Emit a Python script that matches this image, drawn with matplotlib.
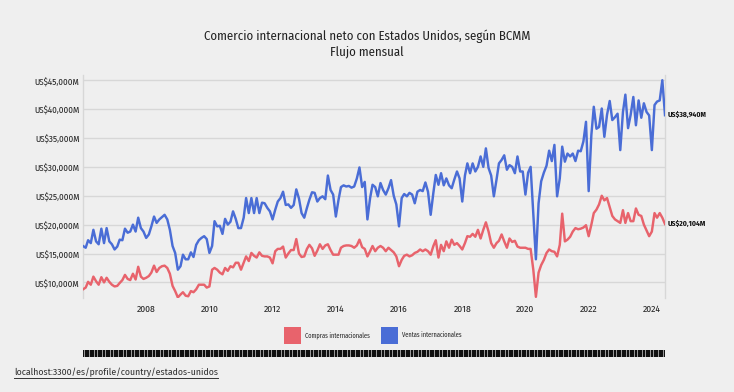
import matplotlib
matplotlib.use("Agg")
import matplotlib.pyplot as plt
import matplotlib.dates as mdates
from matplotlib import font_manager as fm
from matplotlib.ticker import FuncFormatter, FixedLocator
from matplotlib.patches import Rectangle
from matplotlib.lines import Line2D
import pandas as pd

# ---------------- data ----------------
TITLE = "Comercio internacional neto con Estados Unidos, según BCMM"
SUBTITLE = "Flujo mensual"
SOURCE = "localhost:3300/es/profile/country/estados-unidos"
series_names = ["Compras internacionales", "Ventas internacionales"]
series_colors = ["#e8636c", "#4a6dd6"]
start_month = "2006-01-01"
y_ticks = [10000, 15000, 20000, 25000, 30000, 35000, 40000, 45000]
x_tick_years = [2008, 2010, 2012, 2014, 2016, 2018, 2020, 2022, 2024]

# monthly values, in thousand million US$ (Jan 2006 - Jun 2024)
ventas = [
    16.3, 16.0, 17.3, 16.8, 19.1, 17.1, 16.6, 19.3, 16.8, 19.4, 17.1, 16.6,
    15.7, 16.2, 17.4, 17.3, 19.3, 18.6, 18.8, 20.0, 18.8, 21.2, 19.4, 18.8,
    17.7, 18.3, 19.7, 21.4, 20.3, 20.9, 21.3, 21.7, 20.9, 19.1, 16.3, 15.1,
    12.2, 12.8, 14.8, 14.0, 14.0, 15.2, 14.4, 16.5, 17.3, 17.7, 18.0, 17.5,
    15.1, 16.3, 20.6, 19.7, 19.8, 18.4, 21.0, 20.0, 20.5, 22.3, 21.0, 19.4,
    19.4, 21.2, 24.6, 22.0, 24.6, 22.0, 24.6, 22.0, 23.8, 23.7, 22.9, 22.3,
    20.9, 22.6, 24.0, 24.6, 25.7, 23.4, 23.5, 22.9, 23.4, 26.1, 24.5, 22.0,
    21.2, 22.9, 24.3, 25.6, 25.5, 24.0, 24.6, 24.9, 24.4, 28.5, 26.0, 25.2,
    21.4, 24.3, 26.5, 26.8, 26.6, 26.7, 26.4, 26.6, 28.0, 29.9, 26.5, 27.4,
    20.9, 24.6, 26.9, 26.5, 24.9, 27.2, 26.0, 25.2, 26.3, 27.7, 25.0, 23.5,
    19.7, 24.6, 25.3, 24.9, 25.5, 25.2, 23.7, 25.7, 26.0, 25.8, 27.3, 25.7,
    21.7, 25.5, 28.6, 26.9, 28.9, 26.8, 28.0, 26.8, 26.3, 27.8, 29.2, 28.0,
    24.0, 28.5, 30.6, 28.9, 30.6, 29.2, 30.0, 31.8, 30.0, 33.2, 29.8, 28.5,
    24.9, 27.8, 30.6, 31.2, 32.0, 29.5, 30.3, 30.0, 28.9, 31.8, 29.2, 29.2,
    25.2, 29.0, 30.0, 22.0, 14.0, 23.7, 27.5, 29.0, 30.2, 32.8, 31.0, 33.8,
    24.9, 28.0, 33.5, 30.9, 32.3, 31.8, 32.3, 31.0, 32.8, 32.7, 34.4, 37.8,
    25.8, 35.5, 40.4, 36.6, 36.9, 40.1, 35.2, 39.0, 41.4, 38.1, 38.6, 39.2,
    32.9, 39.5, 42.5, 36.7, 39.0, 42.1, 37.2, 41.5, 38.5, 41.0, 39.5, 38.9,
    32.9, 40.7, 41.3, 41.5, 45.0, 38.94,
]
compras = [
    8.8, 9.1, 10.1, 9.6, 11.0, 10.2, 9.6, 10.9, 10.0, 10.8, 10.1, 9.6,
    9.3, 9.4, 9.9, 10.4, 11.3, 10.6, 10.4, 11.5, 10.5, 12.7, 11.0, 10.6,
    10.8, 11.1, 11.7, 12.9, 11.8, 12.5, 12.8, 12.9, 12.5, 11.5, 9.4, 8.5,
    7.4, 7.9, 8.3, 7.7, 7.6, 8.5, 8.3, 8.8, 9.6, 9.6, 9.6, 9.1,
    9.3, 12.2, 12.5, 12.2, 11.7, 11.4, 12.5, 12.0, 12.8, 12.6, 13.4, 13.4,
    12.2, 13.4, 14.5, 13.7, 15.1, 14.6, 14.3, 15.2, 14.6, 14.5, 14.5, 14.3,
    13.3, 15.4, 15.8, 15.8, 16.2, 14.3, 15.0, 15.6, 15.6, 17.5, 15.0, 14.4,
    14.5, 15.8, 16.5, 15.9, 14.6, 15.5, 16.6, 15.8, 16.4, 16.6, 15.6, 14.8,
    14.8, 14.8, 16.0, 16.3, 16.4, 16.4, 16.3, 16.0, 16.4, 17.4, 16.1, 15.8,
    14.5, 15.4, 16.3, 15.4, 16.0, 16.3, 16.0, 15.4, 16.0, 15.6, 15.2, 14.5,
    12.8, 13.9, 14.6, 14.8, 14.5, 14.7, 15.1, 15.3, 15.7, 15.4, 15.7, 15.4,
    14.8, 16.3, 17.3, 14.3, 16.5, 15.4, 17.1, 16.0, 17.4, 16.5, 16.8, 16.3,
    15.7, 16.8, 18.0, 17.9, 18.4, 17.9, 19.1, 17.6, 19.1, 20.4, 18.8, 16.8,
    16.0, 16.8, 17.2, 18.3, 17.1, 16.0, 17.6, 17.0, 17.2, 16.2, 16.0, 16.0,
    16.0, 15.8, 15.8, 12.2, 7.5, 11.7, 13.0, 13.9, 15.1, 15.7, 15.4, 15.3,
    14.5, 16.5, 21.9, 17.1, 17.4, 17.9, 18.8, 19.4, 19.2, 19.3, 19.5, 19.9,
    18.0, 20.0, 22.0, 22.6, 23.5, 25.0, 24.2, 24.6, 23.0, 21.5, 20.9, 20.6,
    20.3, 22.5, 20.3, 22.0, 20.6, 20.6, 22.8, 21.7, 21.5, 20.0, 19.0, 18.0,
    18.8, 22.0, 21.2, 22.0, 21.2, 20.104,
]
UNIT = 1000  # thousand million -> million


# ---------------- font: prefer a condensed sans if one is installed ----------------
def pick_font():
    prefs = ["Fira Sans Condensed", "Fira Sans", "Roboto Condensed", "Liberation Sans Narrow",
             "Open Sans Condensed", "Noto Sans", "Noto Sans Condensed", "DejaVu Sans Condensed",
             "Open Sans", "Roboto", "Lato"]
    cond = {}
    for e in fm.fontManager.ttflist:
        if e.style != "normal":
            continue
        if e.stretch in ("condensed", "semi-condensed", "extra-condensed") or \
           "ondensed" in e.name or "Narrow" in e.name:
            cond.setdefault(e.name, e.stretch)
    for p in prefs:
        if p in cond:
            return p, cond[p]
    names = {e.name for e in fm.fontManager.ttflist}
    for p in ["Roboto", "Lato", "Noto Sans", "DejaVu Sans"]:
        if p in names:
            return p, "normal"
    return "DejaVu Sans", "normal"


FONT, STRETCH = pick_font()
plt.rcParams["font.family"] = [FONT, "DejaVu Sans"]
plt.rcParams["font.stretch"] = STRETCH

# ---------------- figure ----------------
W, H = 734, 392
BG = "#efefef"
GRID = "#d7d7d7"
TXT = "#222222"

fig = plt.figure(figsize=(W / 100, H / 100), dpi=100, facecolor=BG)
renderer = fig.canvas.get_renderer()


def fx(px):
    return px / W


def fy(py):
    return 1 - py / H


def fit_size(s, target_px, lo, hi, **kw):
    t = fig.text(0, 0, s, fontsize=10, **kw)
    w = t.get_window_extent(renderer).width
    t.remove()
    return max(lo, min(hi, 10 * target_px / w))


months = pd.date_range(start_month, periods=len(ventas), freq="MS")
ventas_m = [v * UNIT for v in ventas]
compras_m = [v * UNIT for v in compras]

fmt_money = lambda v: f"US${v:,.0f}M"

s_title = fit_size(TITLE, 326, 8.0, 10.5)
s_ytick = fit_size(fmt_money(45000), 45, 6.0, 7.8)
s_xtick = fit_size("2008", 19, 6.0, 7.8)
s_leg = fit_size(series_names[0], 65, 4.5, 6.0)
s_url = fit_size(SOURCE, 203, 6.5, 8.0)
s_end = fit_size(fmt_money(38940), 39, 5.5, 7.0, fontweight="bold")

L, R, T, B = 83, 665, 75, 298
ax = fig.add_axes([fx(L), fy(B), fx(R - L), (B - T) / H])
ax.set_facecolor(BG)

ax.plot(months, compras_m, color=series_colors[0], lw=1.75, solid_joinstyle="round", zorder=3)
ax.plot(months, ventas_m, color=series_colors[1], lw=1.75, solid_joinstyle="round", zorder=3)

ax.set_xlim(months[0], months[-1])
ax.set_ylim(7300, 45900)

ax.yaxis.set_major_locator(FixedLocator(y_ticks))
ax.yaxis.set_major_formatter(FuncFormatter(lambda v, p: fmt_money(v)))
ax.xaxis.set_major_locator(FixedLocator([mdates.date2num(pd.Timestamp(f"{y}-01-01")) for y in x_tick_years]))
ax.xaxis.set_major_formatter(mdates.DateFormatter("%Y"))

ax.grid(axis="y", color=GRID, lw=1.0)
ax.set_axisbelow(True)
for s in ["top", "bottom"]:
    ax.spines[s].set_visible(False)
for s in ["left", "right"]:
    ax.spines[s].set_color(GRID)
    ax.spines[s].set_linewidth(1.0)
ax.tick_params(axis="both", length=0, colors=TXT)
ax.tick_params(axis="y", pad=2.5, labelsize=s_ytick)
ax.tick_params(axis="x", pad=5, labelsize=s_xtick)

# end labels
for vals in (ventas_m, compras_m):
    ax.annotate(fmt_money(vals[-1]), xy=(months[-1], vals[-1]), xytext=(2.2, 0),
                textcoords="offset points", ha="left", va="center",
                fontsize=s_end, fontweight="bold", color="#111111", annotation_clip=False)

# title
fig.text(0.5, fy(36), TITLE, ha="center", va="center", fontsize=s_title, color=TXT)
fig.text(0.5, fy(52), SUBTITLE, ha="center", va="center", fontsize=s_title, color=TXT)

# legend (manual)
leg_items = [(284, series_names[0], series_colors[0]), (381, series_names[1], series_colors[1])]
for x0, name, col in leg_items:
    fig.add_artist(Rectangle((fx(x0), fy(344)), fx(17), 17 / H, transform=fig.transFigure,
                             facecolor=col, edgecolor="none"))
    fig.text(fx(x0 + 21), fy(335), name, ha="left", va="center", fontsize=s_leg, color=TXT)

# brush / timeline strip
ax2 = fig.add_axes([fx(L), fy(357), fx(R - L), 7 / H])
ax2.vlines(months, 0, 1, color="#111111", lw=1.75)
ax2.set_xlim(months[0], months[-1])
ax2.set_ylim(0, 1)
ax2.axis("off")

# source url with underline
t = fig.text(fx(14), fy(372), SOURCE, ha="left", va="center", fontsize=s_url, color="#333333")
fig.canvas.draw()
bb = t.get_window_extent()
fig.add_artist(Line2D([bb.x0 / W, bb.x1 / W], [(bb.y0 - 1) / H, (bb.y0 - 1) / H],
                      transform=fig.transFigure, color="#333333", lw=0.7))

fig.savefig("out.png", dpi=100, facecolor=BG)
